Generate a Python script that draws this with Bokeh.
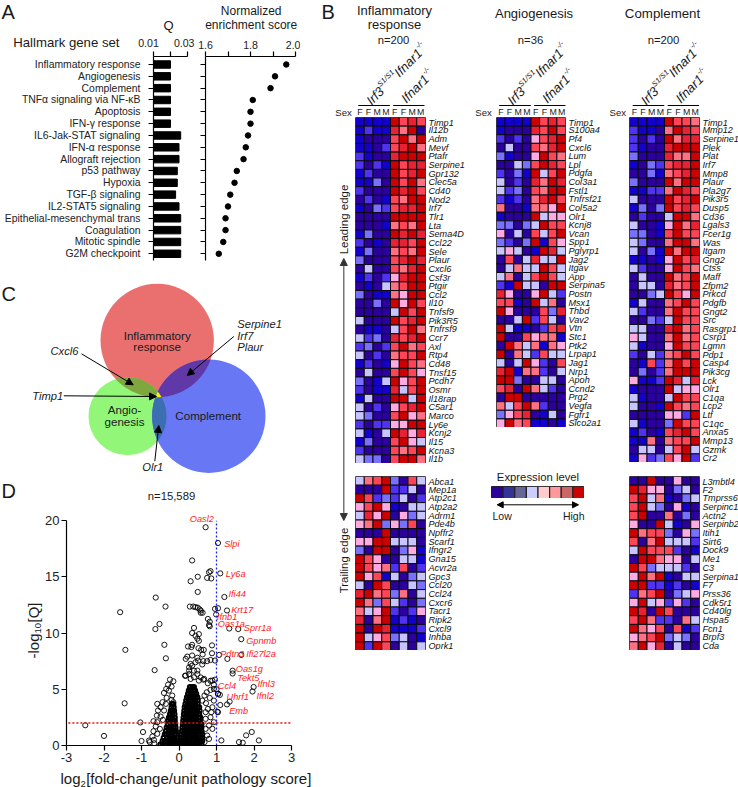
import numpy as np
from bokeh.core.properties import value
from bokeh.embed import file_html
from bokeh.models import (Arrow, FactorRange, FixedTicker, LinearAxis, NormalHead, Range1d)
from bokeh.plotting import figure
from bokeh.resources import INLINE

FONT = "Liberation Sans"

# ---------- Panel A ----------
hallmark_sets = ["Inflammatory response", "Angiogenesis", "Complement", "TNF\u03b1 signaling via NF-\u03baB", "Apoptosis",
                 "IFN-\u03b3 response", "IL6-Jak-STAT signaling", "IFN-\u03b1 response", "Allograft rejection", "p53 pathway",
                 "Hypoxia", "TGF-\u03b2 signaling", "IL2-STAT5 signaling", "Epithelial-mesenchymal trans", "Coagulation",
                 "Mitotic spindle", "G2M checkpoint"]
q_values = [0.02, 0.02, 0.02, 0.02, 0.02, 0.02, 0.026, 0.025, 0.025, 0.024, 0.024, 0.023, 0.025, 0.026, 0.026, 0.026, 0.026]
nes_values = [1.959, 1.909, 1.889, 1.81, 1.80, 1.80, 1.789, 1.779, 1.769, 1.739, 1.729, 1.71, 1.70, 1.689, 1.689, 1.679, 1.659]

# ---------- Panel B ----------
# levels: 0 indigo .. 4 lavender, 5 pink .. 9 dark red
heat_palette = ["#2b009c", "#1400cc", "#5033f0", "#7a70ff", "#c8c4ff", "#ffaae0", "#ff7080", "#ff4455", "#e82233", "#cc0000"]
expression_colors = ["#2b009c", "#333399", "#666699", "#ccccff", "#ffcccc", "#ff9999", "#cc6666", "#cc0000"]
sex_labels = ["F", "F", "M", "M", "F", "F", "M", "M"]

infl_lead_genes = ["Timp1", "Il12b", "Adm", "Mevf", "Ptafr", "Serpine1", "Gpr132", "Clec5a", "Cd40", "Nod2", "Irf7", "Tlr1", "Lta", "Sema4D",
                   "Ccl22", "Sele", "Plaur", "Cxcl6", "Csf3r", "Ptgir", "Ccl2", "Il10", "Tnfsf9", "Pik3R5", "Tnfrsf9", "Ccr7", "Axl", "Rtp4",
                   "Cd48", "Tnsf15", "Pcdh7", "Osmr", "Il18rap", "C5ar1", "Marco", "Ly6e", "Kcnj2", "Il15", "Kcna3", "Il1b"]
infl_lead_levels = ["11119787", "12118690", "10007969", "11027896", "21008999", "20219788", "12009789", "11309796", "20009897", "02017699",
                    "10327889", "00009999", "00016769", "13009898", "20108879", "13006769", "30007898", "04007689", "12025899", "01046799",
                    "30116599", "00309597", "00004979", "40009789", "01104796", "42308789", "23027967", "40206779", "12015976", "04007975",
                    "30149579", "20118479", "14009949", "40205789", "43007956", "20225599", "41049858", "13007954", "20007679", "43307996"]
infl_trail_genes = ["Abca1", "Mep1a", "Atp2c1", "Atp2a2", "Adrm1", "Pde4b", "Npffr2", "Scarf1", "Ifngr2", "Gna15", "Acvr2a", "Gpc3", "Ccl20",
                    "Ccl24", "Cxcr6", "Tacr1", "Ripk2", "Cxcl9", "Inhba", "Oprk1"]
infl_trail_levels = ["46793074", "00092240", "97232402", "57951044", "48590534", "56935370", "00090000", "55994440", "30990351", "97500441",
                     "97562702", "95714034", "40970043", "89673604", "96374203", "64592025", "80691210", "90981112", "94573401", "92970404"]
angio_genes = ["Timp1", "S100a4", "Pf4", "Cxcl6", "Lum", "Lpl", "Pdgfa", "Col3a1", "Fstl1", "Tnfrsf21", "Col5a2", "Olr1", "Kcnj8", "Vcan", "Spp1",
               "Pglyrp1", "Jag2", "Itgav", "App", "Serpina5", "Postn", "Msx1", "Thbd", "Vav2", "Vtn", "Stc1", "Ptk2", "Lrpap1", "Jag1", "Nrp1", "Apoh",
               "Ccnd2", "Prg2", "Vegfa", "Fgfr1", "Slco2a1"]
angio_levels = ["11119787", "10008797", "20205789", "04007689", "31005976", "00437987", "20319479", "40208698", "42307699", "21206897",
                "60016659", "10009455", "33034977", "50407479", "32039175", "45401984", "07048449", "04644974", "46047974", "21944099",
                "85005942", "77109460", "95000738", "00492740", "94110278", "90075661", "09646165", "90642744", "40495207", "89166204",
                "99300440", "78096420", "09900000", "64796200", "35780140", "59671101"]
comp_lead_genes = ["Timp1", "Mmp12", "Serpine1", "Plek", "Plat", "Irf7", "Mmp8", "Plaur", "Pla2g7", "Pik3r5", "Dusp5", "Cd36", "Lgals3", "Fcer1g",
                   "Was", "Itgam", "Gng2", "Ctss", "Maff", "Zfpm2", "Prkcd", "Pdgfb", "Gngt2", "Src", "Rasgrp1", "Csrp1", "Lgmn", "Pdp1", "Casp4",
                   "Pik3cg", "Lck", "Olr1", "C1qa", "Lcp2", "Ltf", "C1qc", "Anxa5", "Mmp13", "Gzmk", "Cr2"]
comp_lead_levels = ["11119776", "21106987", "20209688", "21008999", "30008669", "10327889", "00316789", "30009699", "11226987", "40009789",
                    "13039787", "02004996", "40015968", "33017977", "43006996", "40319699", "11015978", "42005976", "04009679", "04408679",
                    "00349759", "14006797", "42006977", "00324977", "44008967", "54006967", "41005977", "20426797", "01726979", "03026999",
                    "51129848", "10009455", "41004977", "40019767", "00005529", "41003977", "12017897", "11606779", "04404794", "15237592"]
comp_trail_genes = ["L3mbtl4", "F2", "Tmprss6", "Serpinc1", "Actn2", "Serpinb2", "Itih1", "Sirt6", "Dock9", "Me1", "C3", "Serpina1", "F7", "Prss36",
                    "Cdk5r1", "Cd40lg", "Hspa5", "Fcn1", "Brpf3", "Cda"]
comp_trail_levels = ["00900500", "98550340", "79461034", "79430510", "79006030", "50094105", "96773053", "70694442", "49777201", "09965504",
                     "97344420", "59691044", "99221201", "26790345", "59452520", "98097000", "79622064", "96570712", "56793430", "69580400"]

# ---------- Panel D ----------
volcano_sparse_x = [.71, 1.04, .35, 1.10, .84, .80, .75, .86, .50, .31, .50, -.62, 1.21, -.36, -1.57, .29, .38, .44, .5, .55, .58, .58, .63, .96, 1.04, .99,
                    1.28, .77, .82, .80, .82, -.52, -.63, .4, .35, .53, .44, .49, .53, 1.34, 1.58, 1.66, -.39, .88, .24, .35, .33, .52, .66, .59, -1.43, 1.66,
                    1.07, .88, .63, 1.29, -.35, .35, .22, .18, .49, .51, .65, .75, .84, .96, .62, .44, .31, .35, .27, -.65, 1.43, 1.43, .16, .27, .4, .49, .58,
                    .65, .84, .96, .93, 1.99, 1.96, 1, 1.04, 1.09, 1.35, 1.28, 1.10, -1.45, 1.02,
                    -1.03, -2.5, -2, -.96, -1, -.78, -.66, 1.94, 1.79, 2.13, 1.6, 1.7, 1.13,
                    -.24, -.15, -.29, -.20, -.34, -.27, -.40, -.18, -.33, -.20, -.44, -.15, -.35, -.58, -.49, -.40, -.56, -.59, -.49, -.43, -.68, -.58, -.62, -.51,
                    -.68, -.58, -.71, -.80, -.67,
                    .53, .67, .77, .89, .93, .84, .74, 1.04, .68, .82, .93, .72, .62, .89, .77, .71, .86, 1.04, .84, .71, .93, .80, .71, .89, .75, .62, .80, .68,
                    .18, .27, .40, .49, .31]
volcano_sparse_y = [19.4, 18.0, 16.45, 15.3, 15.5, 15.4, 14.9, 14.85, 15.0, 14.6, 13.65, 13.15, 13.2, 12.35, 11.85, 12.35, 12.35, 12.3, 12.25, 12.1, 12, 11.8, 11.8, 12.15, 12.2, 11.65,
                    12.0, 11.25, 11.0, 10.7, 10.6, 10.8, 10.35, 10.45, 10, 9.9, 9.75, 9.5, 9.3, 10.4, 10.35, 9.45, 8.95, 8.9, 8.8, 8.95, 8.75, 8.65, 8.5, 8.5, 8.5, 8.05,
                    8.05, 8.2, 8.1, 7.7, 7.75, 8, 7.9, 7.7, 7.8, 7.55, 7.5, 7.5, 7.6, 7.55, 7.2, 7.4, 7.25, 7.1, 6.95, 6.7, 6.65, 6.4, 6.2, 6.35, 6.65, 6.35, 6.05,
                    5.85, 5.75, 5.85, 5.4, 5.2, 4.8, 5, 4.6, 4.5, 3.9, 3.65, 3.6, 3.75, 3.0,
                    2.05, 1.8, .85, 1.2, .4, .3, .2, 1.2, .9, .45, .3, .25, .45,
                    5.86, 5.71, 5.41, 5.24, 5.03, 4.88, 4.67, 4.44, 4.23, 4.05, 3.85, 3.85, 3.70, 3.70, 3.40, 3.11, 3.11, 2.66, 2.57, 2.28, 2.16, 2.07, 1.69, 1.48,
                    1.27, 1.04, .80, .44, .50,
                    5.77, 5.92, 5.53, 5.77, 5.03, 4.94, 4.73, 4.59, 4.44, 4.23, 3.99, 3.76, 3.99, 3.40, 3.25, 2.96, 2.96, 2.96, 2.51, 2.37, 2.07, 1.78, 1.48, 1.48, .89, .59, .59, .30,
                    6.21, 6.66, 6.07, 6.66, 5.92]
volcano_dense_rows = [
    (0.1, [.03, .08, .13, .2, .27, .33, .4, .47, .54, .6, -.03, -.09, -.15, -.22, -.29, -.36, -.44, -.5]),
    (0.4, [.04, .1, .16, .22, .29, .36, .43, .5, .56, .62, -.04, -.1, -.17, -.24, -.31, -.38, -.44]),
    (0.7, [.06, .11, .18, .25, .31, .38, .45, .52, .56, .62, -.05, -.11, -.18, -.25, -.32, -.41]),
    (1.0, [.07, .13, .2, .26, .33, .4, .46, .53, .57, .62, -.07, -.12, -.19, -.26, -.33, -.38]),
    (1.3, [.08, .14, .21, .28, .35, .42, .49, .55, .6, -.08, -.13, -.2, -.27, -.35]),
    (1.6, [.09, .15, .22, .29, .36, .43, .5, .56, .6, -.09, -.14, -.21, -.27, -.33]),
    (1.9, [.1, .16, .23, .3, .37, .44, .51, .56, .6, -.1, -.15, -.22, -.3]),
    (2.2, [.11, .17, .24, .31, .38, .45, .52, .56, -.11, -.16, -.23, -.29]),
    (2.5, [.12, .18, .25, .32, .39, .46, .53, .57, -.11, -.17, -.22, -.27]),
    (2.8, [.13, .19, .26, .33, .4, .47, .54, -.12, -.18, -.24]),
    (3.1, [.14, .2, .27, .34, .41, .48, .55, -.13, -.18, -.22]),
    (3.4, [.15, .21, .28, .35, .42, .49, .54, -.14, -.2]),
    (3.7, [.17, .23, .29, .36, .43, .5, -.15, -.19]),
    (4.0, [.19, .25, .31, .37, .44, .5]),
    (4.3, [.21, .27, .32, .38, .44, .49]),
    (4.6, [.24, .3, .35, .41, .46]),
    (4.9, [.26, .32, .38, .43]),
    (5.2, [.29, .35, .4]),
]
volcano_labels = [("Oasl2", 568, 86), ("Slpi", 671, 161), ("Ly6a", 676, 251), ("Ifi44", 684, 311), ("Krt17", 692, 358), ("Ifnb1", 649, 380),
                  ("Oas1a", 652, 401), ("Sprr1a", 730, 413), ("Gpnmb", 737, 450), ("Pdtn3", 659, 491), ("Ifi27l2a", 737, 491), ("Oas1g", 706, 534),
                  ("Tekt5", 710, 561), ("Ifnl3", 771, 579), ("Ccl4", 652, 586), ("Uhrf1", 678, 620), ("Ifnl2", 768, 617), ("Emb", 686, 661)]

figs = []


def place(p, left, top):
    p.styles = {"position": "absolute", "left": f"{left}px", "top": f"{top}px"}
    figs.append(p)
    return p


def base(width, height, l, r, t, b, **kw):
    p = figure(width=width, height=height, output_backend="svg", toolbar_location=None,
               min_border_left=l, min_border_right=r, min_border_top=t, min_border_bottom=b, **kw)
    p.background_fill_alpha = 0
    p.border_fill_alpha = 0
    p.outline_line_color = None
    p.grid.visible = False
    return p


def style_axis(ax, size="10.4px"):
    ax.axis_line_color = "black"
    ax.axis_line_width = 1.2
    ax.major_tick_line_color = "black"
    ax.major_tick_line_width = 1.2
    ax.major_tick_in = 0
    ax.major_tick_out = 5
    ax.minor_tick_line_color = None
    ax.major_label_text_font = FONT
    ax.major_label_text_font_size = size
    ax.major_label_text_color = "#222222"


# ---------- Panel A figures ----------
rows_a = list(range(len(hallmark_sets)))
A_TOP, A_BOTTOM, A_STEP, A_FIRST = 56, 260, 11.83, 64
y_start_a = -(A_FIRST - A_TOP) / A_STEP
y_end_a = y_start_a + (A_BOTTOM - A_TOP) / A_STEP

pq = base(192, 262, 153, 5, 56, 2, x_range=Range1d(0.01, 0.03), y_range=Range1d(y_end_a, y_start_a),
          x_axis_type=None, y_axis_type=None)
yax = LinearAxis(ticker=FixedTicker(ticks=rows_a), major_label_overrides={i: s for i, s in enumerate(hallmark_sets)})
style_axis(yax)
yax.major_label_standoff = 8
pq.add_layout(yax, "left")
xax = LinearAxis(ticker=FixedTicker(ticks=[0.01, 0.02, 0.03]))
style_axis(xax, "0px")
xax.major_label_text_color = None
pq.add_layout(xax, "above")
pq.hbar(y=rows_a, left=0.01, right=q_values, height=0.63, color="black")
place(pq, 0, 0)

pn = base(110, 262, 15, 5, 56, 2, x_range=Range1d(1.6, 2.0), y_range=Range1d(y_end_a, y_start_a),
          x_axis_type=None, y_axis_type=None)
yax2 = LinearAxis(ticker=FixedTicker(ticks=rows_a))
style_axis(yax2, "0px")
yax2.major_label_text_color = None
pn.add_layout(yax2, "left")
xax2 = LinearAxis(ticker=FixedTicker(ticks=[1.6, 1.7, 1.8, 1.9, 2.0]),
                  major_label_overrides={1.6: "1.6", 1.7: "", 1.8: "1.8", 1.9: "", 2.0: "2.0"})
style_axis(xax2, "10.6px")
xax2.major_label_standoff = 3
pn.add_layout(xax2, "above")
pn.scatter(x=nes_values, y=rows_a, size=5.5, color="black")
place(pn, 190, 0)


# ---------- Panel B figures ----------
def heat(left, top, right, bottom, genes, levels):
    w, h = right - left, bottom - top
    p = figure(frame_width=int(round(w)), frame_height=int(round(h)), output_backend="svg", toolbar_location=None,
               min_border_left=0, min_border_right=39, min_border_top=0, min_border_bottom=0, x_range=Range1d(0, 8),
               y_range=FactorRange(factors=list(reversed(genes))), x_axis_type=None, y_axis_location="right")
    p.background_fill_alpha = 0
    p.border_fill_alpha = 0
    p.grid.visible = False
    p.outline_line_color = "#777777"
    xs, ys, cs = [], [], []
    for gene, row in zip(genes, levels):
        for j, ch in enumerate(row):
            xs.append(j + 0.5)
            ys.append(gene)
            cs.append(heat_palette[int(ch)])
    p.rect(x=xs, y=ys, width=1, height=1, fill_color=cs, line_color="#0a0a14", line_width=1)
    ax = p.yaxis[0]
    ax.axis_line_color = None
    ax.major_tick_line_color = None
    ax.minor_tick_line_color = None
    ax.major_tick_in = 0
    ax.major_tick_out = 0
    ax.major_label_standoff = 3
    ax.major_label_text_font = FONT
    ax.major_label_text_font_style = "italic"
    ax.major_label_text_font_size = "9.1px"
    ax.major_label_text_color = "#111111"
    place(p, left, top)


heat(355, 117, 425, 463, infl_lead_genes, infl_lead_levels)
heat(355, 476, 425, 650, infl_trail_genes, infl_trail_levels)
heat(496, 117, 565, 427, angio_genes, angio_levels)
heat(629, 117, 699, 462, comp_lead_genes, comp_lead_levels)
heat(629, 476, 699, 650, comp_trail_genes, comp_trail_levels)

pc = base(93, 12, 0, 0, 0, 0, x_range=Range1d(0, 8), y_range=Range1d(0, 1), x_axis_type=None, y_axis_type=None)
pc.rect(x=[i + 0.5 for i in range(8)], y=0.5, width=1, height=1, fill_color=expression_colors, line_color="#222222", line_width=1.2)
pc.outline_line_color = "#222222"
place(pc, 491, 486)

# ---------- Panel D figure ----------
dense_x = [x for _, xs in volcano_dense_rows for x in xs]
dense_y = [y for y, xs in volcano_dense_rows for _ in xs]
pv = base(300, 270, 66, 9, 20, 25, x_range=Range1d(-3, 3), y_range=Range1d(0, 20), x_axis_type=None, y_axis_type=None)
pv.scatter(x=dense_x, y=dense_y, size=4, fill_alpha=0, line_color="black", line_width=2)
pv.scatter(x=volcano_sparse_x, y=volcano_sparse_y, size=5.2, fill_alpha=0, line_color="black", line_width=0.9)
pv.line(x=[-2.95, 3], y=[2, 2], line_color="#ee1111", line_dash="2 2", line_width=1.3)
pv.line(x=[1, 1], y=[0, 20], line_color="#2222ee", line_dash="2 2", line_width=1.3)
vx = LinearAxis(ticker=FixedTicker(ticks=[-3, -2, -1, 0, 1, 2, 3]),
                major_label_overrides={i: str(i) for i in [-3, -2, -1, 0, 1, 2, 3]})
style_axis(vx, "13px")
vx.major_label_standoff = 2
pv.add_layout(vx, "below")
vy = LinearAxis(ticker=FixedTicker(ticks=[0, 5, 10, 15, 20]))
style_axis(vy, "13px")
vy.major_label_standoff = 2
pv.add_layout(vy, "left")
place(pv, 0, 500)

# ---------- Overlay with free text, Venn and arrows (pixel coordinates) ----------
ov = figure(width=738, height=787, output_backend="svg", toolbar_location=None, x_range=Range1d(0, 738), y_range=Range1d(787, 0),
            x_axis_type=None, y_axis_type=None, min_border=0)
ov.background_fill_alpha = 0
ov.border_fill_alpha = 0
ov.outline_line_color = None
ov.grid.visible = False


def T(x, y, s, size=13, align="center", base_="middle", style="normal", color="#1a1a1a", angle=0.0):
    ov.text(x=[x], y=[y], text=[s], text_font=value(FONT), text_font_size=f"{size}px", text_align=align,
            text_baseline=base_, text_font_style=style, text_color=color, angle=angle)


# Venn
venn_names = ["Inflammatory", "Angiogenesis", "Complement"]
venn_circles = {"Inflammatory": (156.7, 340.0, 56.7), "Angiogenesis": (127.0, 415.7, 39.0), "Complement": (208.3, 415.7, 56.7)}
venn_fill = {"Inflammatory": "#ea7070", "Angiogenesis": "#92f678", "Complement": "#6878f4"}
for n in venn_names:
    cx, cy, r = venn_circles[n]
    ov.circle(x=[cx], y=[cy], radius=r, fill_color=venn_fill[n], line_color=None)


def lens(names):
    pts = []
    theta = np.linspace(0, 2 * np.pi, 1440, endpoint=False)
    for n in names:
        cx, cy, r = venn_circles[n]
        px, py = cx + r * np.cos(theta), cy + r * np.sin(theta)
        keep = np.ones_like(px, dtype=bool)
        for m in names:
            if m != n:
                c2x, c2y, r2 = venn_circles[m]
                keep &= (px - c2x) ** 2 + (py - c2y) ** 2 <= r2 ** 2
        pts.append(np.column_stack([px[keep], py[keep]]))
    pts = np.vstack(pts)
    c = pts.mean(axis=0)
    order = np.argsort(np.arctan2(pts[:, 1] - c[1], pts[:, 0] - c[0]))
    return pts[order, 0].tolist(), pts[order, 1].tolist()


for names, col in [(["Inflammatory", "Angiogenesis"], "#80a63e"), (["Inflammatory", "Complement"], "#6038a8"),
                   (["Angiogenesis", "Complement"], "#3c6eb2"), (venn_names, "#ffee00")]:
    xs, ys = lens(names)
    ov.patch(x=xs, y=ys, fill_color=col, line_color=None)

for (x0, y0, x1, y1) in [(233.3, 336, 186.7, 375), (81, 353.3, 132.7, 384.3), (63.3, 395.3, 156, 396), (154.3, 460.7, 158.3, 425)]:
    ov.add_layout(Arrow(end=NormalHead(size=7, fill_color="black", line_color="black"), x_start=x0, y_start=y0, x_end=x1, y_end=y1,
                        line_color="black", line_width=1))

T(156.7, 335, "Inflammatory", 11.6); T(156.7, 346, "response", 11.6)
T(124, 409, "Angio-", 11.6); T(124, 421, "genesis", 11.6)
T(207.7, 415, "Complement", 11.6)
for y, s in [(323, "Serpine1"), (335, "Irf7"), (346, "Plaur")]:
    T(236.7, y, s, 11.2, "left", style="italic")
T(50, 350, "Cxcl6", 11.2, "left", style="italic")
T(31.7, 395.3, "Timp1", 11.2, "left", style="italic")
T(141.7, 466.7, "Olr1", 11.2, "left", style="italic")

# Panel letters
for x, y, s in [(1, 11, "A"), (321, 11, "B"), (1, 293, "C"), (1, 490, "D")]:
    T(x, y, s, 20, "left")

# Panel A headings
T(12.7, 42, "Hallmark gene set", 13.2, "left")
T(168, 25, "Q", 13)
T(250.7, 10, "Normalized", 12); T(250.7, 24.7, "enrichment score", 12)
T(148, 42, "0.01", 10.6); T(183.7, 42, "0.03", 10.6)

# Panel B headings
T(394, 10, "Inflammatory"); T(394, 24, "response"); T(393, 39, "n=200", 11.3)
T(533.5, 13, "Angiogenesis"); T(530, 39, "n=36", 11.3)
T(662, 12.5, "Complement", 13.3); T(663, 39, "n=200", 11.3)


def along(x0, y0, dist, up=0.0):
    c = np.cos(np.pi / 4)
    return x0 + (dist - up) * c, y0 - (dist + up) * c


for blk_left, sex_x in [(355, 343), (496, 483), (629.5, 617.3)]:
    a = np.pi / 4
    x0, y0 = blk_left + 13, 102
    T(*along(x0, y0, 0), "Irf3", 13, "left", "alphabetic", "italic", angle=a)
    T(*along(x0, y0, 19, 5), "S1/S1", 7.5, "left", "alphabetic", "italic", angle=a)
    T(*along(x0, y0, 39.5), "Ifnar1", 13, "left", "alphabetic", "italic", angle=a)
    T(*along(x0, y0, 73, 5), "-/-", 7.5, "left", "alphabetic", "italic", angle=a)
    x1, y1 = blk_left + 47.7, 100
    T(*along(x1, y1, 0), "Ifnar1", 13, "left", "alphabetic", "italic", angle=a)
    T(*along(x1, y1, 33.5, 5), "-/-", 7.5, "left", "alphabetic", "italic", angle=a)
    ov.line(x=[blk_left + 2.7, blk_left + 34.3], y=[105, 105], line_color="black", line_width=1)
    ov.line(x=[blk_left + 37.7, blk_left + 69], y=[105, 105], line_color="black", line_width=1)
    T(sex_x, 111.7, "Sex", 9.6)
    for j, s in enumerate(sex_labels):
        T(blk_left + 69.6 * (j + 0.5) / 8, 111.7, s, 8.8)

T(343, 219, "Leading edge", 11.5, angle=np.pi / 2)
T(343, 560, "Trailing edge", 11.4, angle=np.pi / 2)
ov.add_layout(Arrow(start=NormalHead(size=7, fill_color="#333333", line_color="#333333"),
                    end=NormalHead(size=7, fill_color="#333333", line_color="#333333"),
                    x_start=343.3, y_start=258, x_end=343.3, y_end=520, line_color="#555555", line_width=1.2))

T(537.5, 476.7, "Expression level", 11.3)
ov.add_layout(Arrow(start=NormalHead(size=6, fill_color="black", line_color="black"),
                    end=NormalHead(size=6, fill_color="black", line_color="black"),
                    x_start=496.7, y_start=504.3, x_end=578, y_end=504.3, line_color="black", line_width=1))
T(492, 515, "Low", 10.5, "left")
T(584, 515, "High", 10.5, "right")

# Panel D text
T(171, 495.7, "n=15,589", 11.3)
for s, zx, zy in volcano_labels:
    T(zx / 3, 490 + zy / 3, s, 9.2, "left", style="italic", color="#ff1a1a")
T(60, 778, "log", 15, "left")
T(80, 783, "2", 9.5, "left")
T(85.7, 778, "[fold-change/unit pathology score]", 15, "left")
a = np.pi / 2
T(33, 658, "-log", 15, "left", "alphabetic", angle=a)
T(37, 633, "10", 9.5, "left", "alphabetic", angle=a)
T(33, 622, "[Q]", 15, "left", "alphabetic", angle=a)
place(ov, 0, 0)

open("out.html", "w").write(file_html(figs, INLINE))
